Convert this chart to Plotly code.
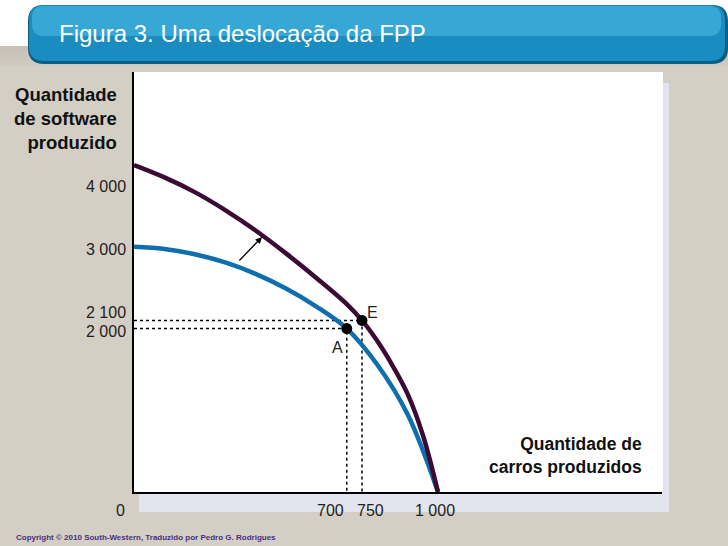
import plotly.graph_objects as go

# ---------------- data ----------------
blue_x = [0, 100, 200, 300, 400, 500, 600, 700, 800, 900, 1000]
blue_y = [3000, 2975, 2910, 2810, 2670, 2490, 2270, 2000, 1560, 950, 0]
purple_x = [0, 100, 200, 300, 400, 500, 600, 700, 750, 800, 850, 900, 950, 1000]
purple_y = [4000, 3850, 3670, 3450, 3200, 2920, 2620, 2300, 2100, 1850, 1550, 1200, 700, 0]
point_names = ["A", "E"]
point_x = [700, 750]
point_y = [2000, 2100]
y_tick_vals = [4000, 3000, 2100, 2000]
y_tick_text = ["4 000", "3 000", "2 100", "2 000"]
x_tick_vals = [0, 700, 750, 1000]
x_tick_text = ["0", "700", "750", "1 000"]
title_text = "Figura 3. Uma deslocação da FPP"
y_title = "Quantidade<br>de software<br>produzido"
x_title = "Quantidade de<br>carros produzidos"
footer = "Copyright © 2010 South-Western, Traduzido por Pedro G. Rodrigues"

# ---------------- geometry helpers ----------------
W, H = 728, 546
L, R, T, B = 134, 66, 72, 54
PW, PH = W - L - R, H - T - B


def px(x):
    return (x - L) / PW


def py(y):
    return (H - B - y) / PH


def rounded_path(x0, y0, x1, y1, r):
    pts = []
    pts.append(f"M{px(x0 + r)},{py(y0)}")
    pts.append(f"L{px(x1 - r)},{py(y0)}")
    pts.append(f"Q{px(x1)},{py(y0)} {px(x1)},{py(y0 + r)}")
    pts.append(f"L{px(x1)},{py(y1 - r)}")
    pts.append(f"Q{px(x1)},{py(y1)} {px(x1 - r)},{py(y1)}")
    pts.append(f"L{px(x0 + r)},{py(y1)}")
    pts.append(f"Q{px(x0)},{py(y1)} {px(x0)},{py(y1 - r)}")
    pts.append(f"L{px(x0)},{py(y0 + r)}")
    pts.append(f"Q{px(x0)},{py(y0)} {px(x0 + r)},{py(y0)}")
    pts.append("Z")
    return " ".join(pts)


FONT = "Liberation Sans, Arial, sans-serif"

fig = go.Figure()

# dotted guide lines
for xv, yv in zip(point_x, point_y):
    fig.add_trace(go.Scatter(x=[0, xv, xv], y=[yv, yv, 0], mode="lines",
                             line=dict(color="black", width=1.5, dash="dot"),
                             hoverinfo="skip", showlegend=False))

fig.add_trace(go.Scatter(x=blue_x, y=blue_y, mode="lines",
                         line=dict(color="#0f6fae", width=4.5, shape="spline", smoothing=1),
                         showlegend=False, hoverinfo="skip"))
fig.add_trace(go.Scatter(x=purple_x, y=purple_y, mode="lines",
                         line=dict(color="#3b0a35", width=4.5, shape="spline", smoothing=1),
                         showlegend=False, hoverinfo="skip"))
fig.add_trace(go.Scatter(x=point_x, y=point_y, mode="markers",
                         marker=dict(color="black", size=11),
                         showlegend=False, hoverinfo="skip"))

shapes = []
shapes.append(dict(type="rect", xref="paper", yref="paper", x0=px(0), x1=px(W), y0=py(0), y1=py(46),
                   fillcolor="white", line_width=0, layer="below"))
for i, a in enumerate([0.10, 0.08, 0.06, 0.04]):
    shapes.append(dict(type="rect", xref="paper", yref="paper", x0=px(0), x1=px(W),
                       y0=py(46 + i * 5), y1=py(51 + i * 5),
                       fillcolor=f"rgba(90,80,70,{a})", line_width=0, layer="below"))
shapes.append(dict(type="path", xref="paper", yref="paper", path=rounded_path(28, 5, 728, 64, 16),
                   fillcolor="#0b5f84", line_width=0, layer="below"))
shapes.append(dict(type="path", xref="paper", yref="paper", path=rounded_path(29, 5, 725, 61, 15),
                   fillcolor="#1a8cbf", line_width=0, layer="below"))
shapes.append(dict(type="path", xref="paper", yref="paper", path=rounded_path(32, 6, 721, 36, 12),
                   fillcolor="rgba(90,200,240,0.45)", line_width=0, layer="below"))
shapes.append(dict(type="rect", xref="paper", yref="paper", x0=px(139), x1=px(669), y0=py(512), y1=py(83),
                   fillcolor="#e3e5ee", line_width=0, layer="below"))
shapes.append(dict(type="rect", xref="paper", yref="paper", x0=px(134), x1=px(663), y0=py(492), y1=py(72),
                   fillcolor="white", line_width=0, layer="below"))

annotations = []
annotations.append(dict(xref="paper", yref="paper", x=px(57), y=py(33), xanchor="left", yanchor="middle",
                        text=title_text, showarrow=False, font=dict(family=FONT, size=24, color="white")))
annotations.append(dict(xref="paper", yref="paper", x=px(119), y=py(118), xanchor="right", yanchor="middle",
                        align="right", text=f"<b>{y_title}</b>", showarrow=False,
                        font=dict(family=FONT, size=18.5, color="#111111")))
annotations.append(dict(xref="paper", yref="paper", x=px(644), y=py(455), xanchor="right", yanchor="middle",
                        align="right", text=f"<b>{x_title}</b>", showarrow=False,
                        font=dict(family=FONT, size=17.5, color="#111111")))
annotations.append(dict(xref="paper", yref="paper", x=px(14), y=py(537), xanchor="left", yanchor="middle",
                        text=f"<b>{footer}</b>", showarrow=False,
                        font=dict(family=FONT, size=8, color="#4a2e80")))

y_shift = {4000: -21, 3000: -3, 2100: 8, 2000: -3}
for v, t in zip(y_tick_vals, y_tick_text):
    annotations.append(dict(x=0, y=v, xref="x", yref="y", xanchor="right", yanchor="middle",
                            xshift=-7, yshift=y_shift[v], text=t, showarrow=False, borderpad=0,
                            font=dict(family=FONT, size=16, color="#222222")))
x_anchor = {0: ("right", -7), 700: ("right", -1), 750: ("left", -7), 1000: ("center", -3)}
for v, t in zip(x_tick_vals, x_tick_text):
    anc, sh = x_anchor[v]
    annotations.append(dict(x=v, y=0, xref="x", yref="y", xanchor=anc, yanchor="middle",
                            xshift=sh, yshift=-18, text=t, showarrow=False,
                            font=dict(family=FONT, size=16, color="#222222")))
lab_off = {"A": (-9, -19), "E": (11, 8)}
for n, xv, yv in zip(point_names, point_x, point_y):
    dx, dy = lab_off[n]
    annotations.append(dict(x=xv, y=yv, xref="x", yref="y", xshift=dx, yshift=dy, text=n,
                            showarrow=False, font=dict(family=FONT, size=16, color="#222222")))
annotations.append(dict(x=421, y=3121, ax=342, ay=2815, xref="x", yref="y", axref="x", ayref="y",
                        text="", showarrow=True, arrowhead=2, arrowsize=1, arrowwidth=1.3,
                        arrowcolor="black"))

fig.update_layout(
    width=W, height=H,
    margin=dict(l=L, r=R, t=T, b=B, pad=0),
    paper_bgcolor="#d4cfc5",
    plot_bgcolor="rgba(0,0,0,0)",
    shapes=shapes,
    annotations=annotations,
    xaxis=dict(range=[0, 1737], showgrid=False, zeroline=False, showticklabels=False, ticks="",
               showline=True, linecolor="black", linewidth=2, fixedrange=True),
    yaxis=dict(range=[0, 5140], showgrid=False, zeroline=False, showticklabels=False, ticks="",
               showline=True, linecolor="black", linewidth=2, fixedrange=True),
)

fig.write_html("out.html", config={"displayModeBar": False})
